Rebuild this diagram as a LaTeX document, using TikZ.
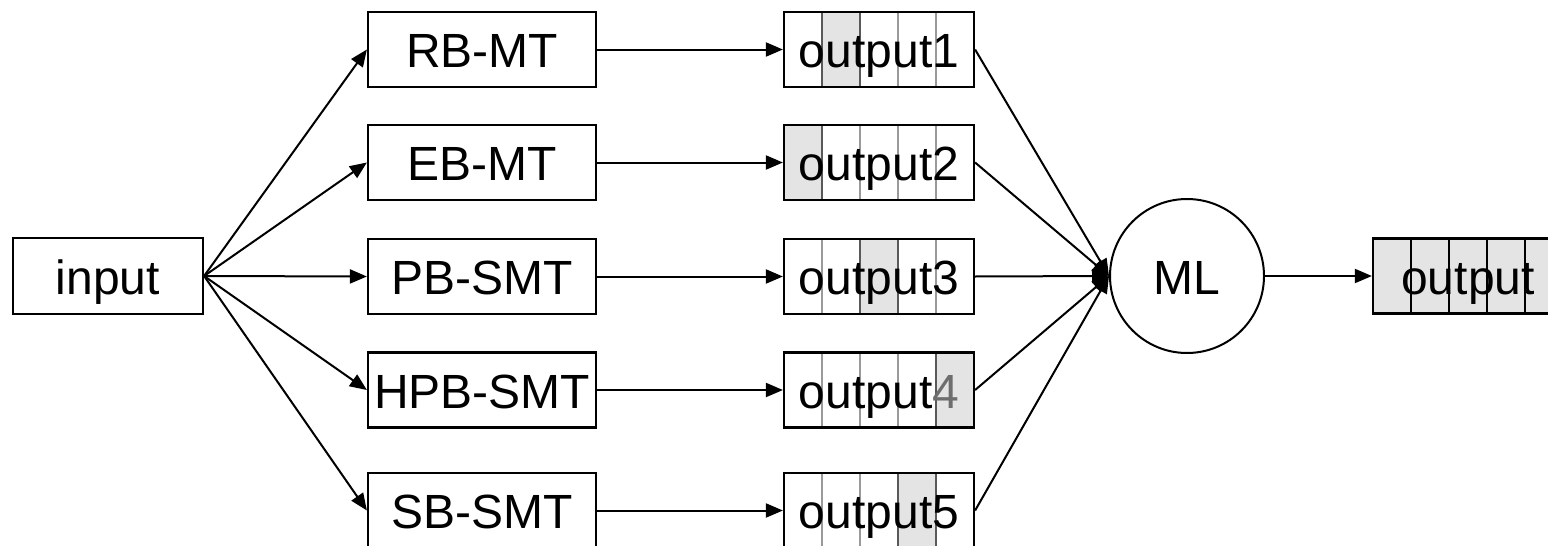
\documentclass[tikz,border=0pt]{standalone}
\usepackage{fontspec}
\setmainfont{Liberation Sans}
\usetikzlibrary{arrows.meta}
\definecolor{cellfill}{HTML}{E4E4E4}
\definecolor{divgray}{HTML}{9A9A9A}
\definecolor{numgray}{HTML}{6E6E6E}
\begin{document}
\begin{tikzpicture}[x=1pt,y=-1pt,
  lbl/.style={font=\fontsize{48}{58}\selectfont, inner sep=0pt, text height=36pt, text depth=0pt},
  box/.style={lbl, draw, line width=2.2pt, minimum width=228pt, minimum height=75pt},
  inbox/.style={lbl, draw, line width=2.2pt, minimum width=190pt, minimum height=76pt},
  obox/.style={lbl, draw, line width=2.2pt, minimum width=190pt, minimum height=75pt},
  cells/.style={path picture={
    \fill[cellfill] ([xshift=#1*38pt-38pt]path picture bounding box.south west) rectangle ++(38pt,80pt);
    \foreach \k in {1,...,4}
      \draw[divgray, line width=1.6pt] ([xshift=\k*38pt]path picture bounding box.south west) -- ++(0pt,80pt);
    \draw[black!65, line width=2pt] ([xshift=#1*38pt-38pt]path picture bounding box.south west) rectangle ++(38pt,80pt);
  }},
  fullcells/.style={fill=cellfill, path picture={
    \foreach \k in {1,...,4}
      \draw[black, line width=2pt] ([xshift=\k*38pt]path picture bounding box.south west) -- ++(0pt,80pt);
  }},
  arr/.style={line width=2pt, -{Triangle[length=17pt,width=14pt]}},
]
\useasboundingbox (0,0) rectangle (1548,546);

\node[inbox] (in) at (108,276) {input};

\node[box] (rb) at (482,49.5) {RB-MT};
\node[box] (eb) at (482,162.5) {EB-MT};
\node[box] (pb) at (482,276.5) {PB-SMT};
\node[box] (hpb) at (482,390) {HPB-SMT};
\node[box] (sb) at (482,510.5) {SB-SMT};

\node[obox, cells=2] (o1) at (879,49.5) {output1};
\node[obox, cells=1] (o2) at (879,162.5) {output2};
\node[obox, cells=3] (o3) at (879,276.5) {output3};
\node[obox, cells=5] (o4) at (879,390) {output{\color{numgray}4}};
\node[obox, cells=4] (o5) at (879,510.5) {output5};

\node[lbl, draw, circle, line width=2pt, minimum size=154pt] (ml) at (1187,276) {ML};

\node[obox, fullcells] (out) at (1468,276) {output};

\foreach \b in {rb,eb,pb,hpb,sb}
  \draw[arr] (in.east) -- (\b.west);

\draw[arr] (rb.east) -- (o1.west);
\draw[arr] (eb.east) -- (o2.west);
\draw[arr] (pb.east) -- (o3.west);
\draw[arr] (hpb.east) -- (o4.west);
\draw[arr] (sb.east) -- (o5.west);

\foreach \o in {o1,o2,o3,o4,o5}
  \draw[arr] (\o.east) -- (ml.west);

\draw[arr] (ml.east) -- (out.west);
\end{tikzpicture}
\end{document}
